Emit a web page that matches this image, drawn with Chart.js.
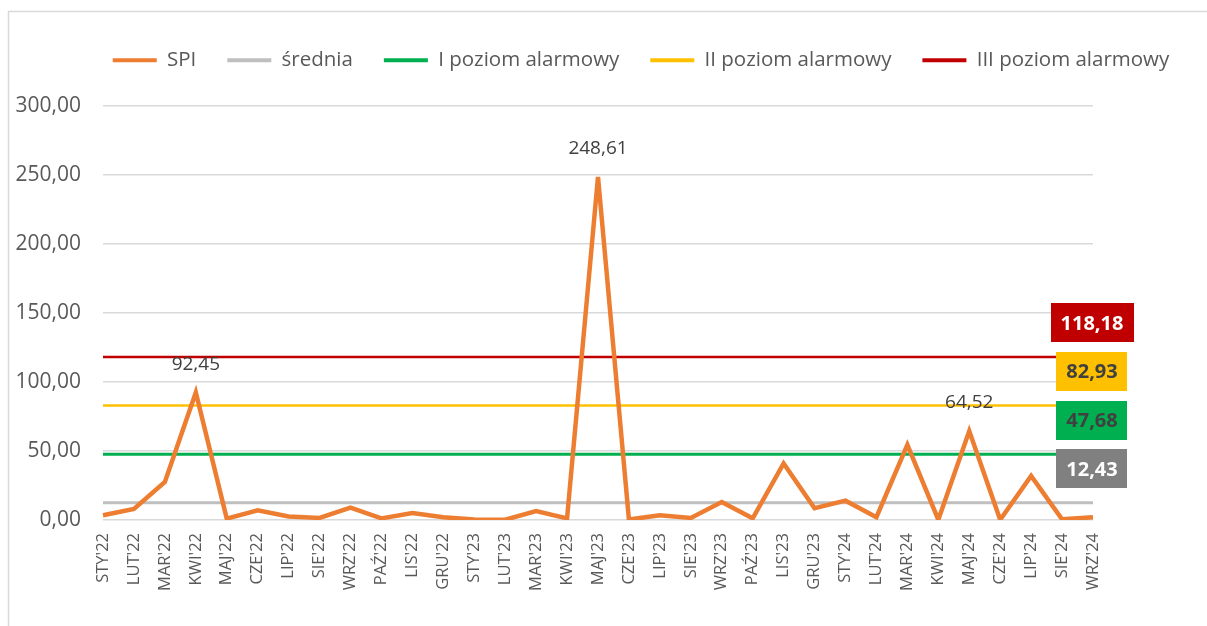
<!DOCTYPE html>
<html>
<head>
<meta charset="utf-8">
<script src="https://cdn.jsdelivr.net/npm/chart.js@4"></script>
<style>
  html, body { margin: 0; padding: 0; background: #fff; }
  #wrap { width: 1207px; height: 626px; position: relative; }
</style>
</head>
<body>
<div id="wrap"><canvas id="myChart" width="1207" height="626"></canvas></div>
<script>
// Months on the x axis
const months = ["STY'22", "LUT'22", "MAR'22", "KWI'22", "MAJ'22", "CZE'22", "LIP'22", "SIE'22", "WRZ'22", "PAŹ'22", "LIS'22", "GRU'22",
    "STY'23", "LUT'23", "MAR'23", "KWI'23", "MAJ'23", "CZE'23", "LIP'23", "SIE'23", "WRZ'23", "PAŹ'23", "LIS'23", "GRU'23",
    "STY'24", "LUT'24", "MAR'24", "KWI'24", "MAJ'24", "CZE'24", "LIP'24", "SIE'24", "WRZ'24"];

// SPI values
const spi = [3.5, 8, 27.5, 92.45, 1, 7, 2.5, 1.5, 9, 1.2, 5, 2,
    0.3, 0.2, 6.5, 1.2, 248.61, 0.3, 3.5, 1.5, 13, 1.2, 41, 8.5,
    14, 2, 54.5, 0.2, 64.52, 0.2, 32, 0.5, 2];

// Reference levels
const srednia = 12.43;
const poziom1 = 47.68;
const poziom2 = 82.93;
const poziom3 = 118.18;

// Points that carry a value label
const labelledPoints = [3, 16, 28];

// Y axis ticks
const yMin = 0, yMax = 300, yStep = 50;

const fmt = v => v.toFixed(2).replace('.', ',');
const flat = v => months.map(() => v);

const FONT = "'Open Sans', sans-serif";

// Boxes with the level values at the right end
const levelBoxes = [
    { value: poziom3, bg: '#C00000', fg: '#FFFFFF' },
    { value: poziom2, bg: '#FFC000', fg: '#404040' },
    { value: poziom1, bg: '#00B050', fg: '#404040' },
    { value: srednia, bg: '#808080', fg: '#FFFFFF' }
];

const extrasPlugin = {
    id: 'extras',
    afterLayout(chart) {
        // legend spans the full width, centred a bit right of the middle
        const lg = chart.legend;
        lg.left = 641 - 600;
        lg.right = 641 + 600;
    },
    beforeDraw(chart) {
        const ctx = chart.ctx;
        ctx.save();
        ctx.strokeStyle = '#D9D9D9';
        ctx.lineWidth = 1.5;
        ctx.beginPath();
        ctx.moveTo(8.5, 626);
        ctx.lineTo(8.5, 11.5);
        ctx.lineTo(1207, 11.5);
        ctx.stroke();
        ctx.restore();
    },
    afterDatasetsDraw(chart) {
        const ctx = chart.ctx;
        const y = chart.scales.y;
        const meta = chart.getDatasetMeta(0);
        ctx.save();
        // value labels above the peaks
        ctx.font = '19px ' + FONT;
        ctx.fillStyle = '#404040';
        ctx.textAlign = 'center';
        ctx.textBaseline = 'middle';
        labelledPoints.forEach(i => {
            const pt = meta.data[i];
            ctx.fillText(fmt(spi[i]), pt.x, pt.y - 28);
        });
        // level boxes
        ctx.font = 'bold 20px ' + FONT;
        const cx = chart.chartArea.right - 1;
        levelBoxes.forEach(b => {
            const w = ctx.measureText(fmt(b.value)).width + 20;
            const h = 39;
            const cy = y.getPixelForValue(b.value) - 34;
            ctx.fillStyle = b.bg;
            ctx.fillRect(Math.round(cx - w / 2), Math.round(cy - h / 2), Math.round(w), h);
            ctx.fillStyle = b.fg;
            ctx.fillText(fmt(b.value), cx, cy + 1);
        });
        ctx.restore();
    }
};

document.addEventListener("DOMContentLoaded", function() {
    const ctx = document.getElementById('myChart').getContext('2d');

    const lineSet = (label, data, color, width) => ({
        label: label,
        data: data,
        borderColor: color,
        backgroundColor: color,
        borderWidth: width,
        pointRadius: 0,
        pointHoverRadius: 0,
        tension: 0,
        fill: false
    });

    const myChart = new Chart(ctx, {
        type: 'line',
        data: {
            labels: months,
            datasets: [
                lineSet('SPI', spi, '#ED7D31', 4.5),
                lineSet('średnia', flat(srednia), '#BFBFBF', 3),
                lineSet('I poziom alarmowy', flat(poziom1), '#00B050', 3),
                lineSet('II poziom alarmowy', flat(poziom2), '#FFC000', 2.5),
                lineSet('III poziom alarmowy', flat(poziom3), '#C00000', 2.5)
            ]
        },
        options: {
            responsive: false,
            animation: false,
            events: [],
            layout: { padding: { top: 19, left: 0, right: 114, bottom: 0 } },
            plugins: {
                tooltip: { enabled: false },
                legend: {
                    position: 'top',
                    labels: {
                        boxWidth: 44,
                        boxHeight: 4,
                        padding: 31,
                        color: '#595959',
                        font: { family: FONT, size: 20.5 },
                        generateLabels: chart =>
                            Chart.defaults.plugins.legend.labels.generateLabels(chart)
                                .map(l => Object.assign(l, { lineWidth: 0 }))
                    }
                }
            },
            scales: {
                x: {
                    offset: false,
                    grid: { display: false },
                    border: { display: false },
                    ticks: {
                        autoSkip: false,
                        minRotation: 90,
                        maxRotation: 90,
                        padding: 5,
                        color: '#595959',
                        font: { family: FONT, size: 16.5 }
                    },
                    afterFit: s => { s.height = 106; }
                },
                y: {
                    min: yMin,
                    max: yMax,
                    border: { display: false },
                    grid: { color: '#D9D9D9', lineWidth: 1.5, drawTicks: false },
                    ticks: {
                        stepSize: yStep,
                        padding: 22,
                        color: '#595959',
                        font: { family: FONT, size: 21 },
                        callback: v => fmt(v)
                    },
                    afterFit: s => { s.width = 103; }
                }
            }
        },
        plugins: [extrasPlugin, {
            id: 'legendHeight',
            beforeInit(chart) {
                const fit = chart.legend.fit;
                chart.legend.fit = function() {
                    // keep the whole legend on one row
                    this.maxWidth = 1200;
                    fit.bind(chart.legend)();
                    this.height = 87;
                };
            }
        }]
    });
});
</script>
</body>
</html>
